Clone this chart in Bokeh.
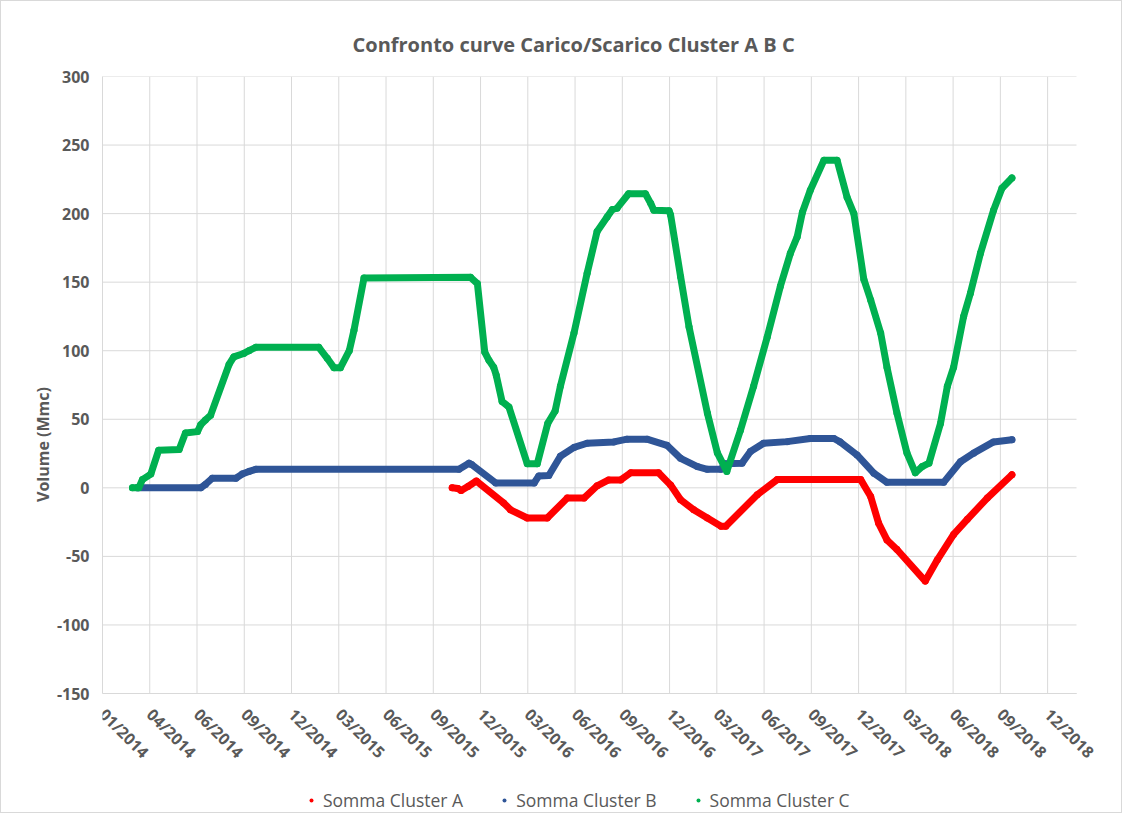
from datetime import datetime, timedelta
from math import pi
import pandas as pd
from bokeh.plotting import figure
from bokeh.models import Range1d, FixedTicker, DatetimeTickFormatter, Legend, LegendItem
from bokeh.embed import file_html
from bokeh.resources import INLINE

TITLE = "Confronto curve Carico/Scarico  Cluster A B C"
Y_LABEL = "Volume (Mmc)"
NAMES = ["Somma Cluster A", "Somma Cluster B", "Somma Cluster C"]
COLORS = ["#FF0000", "#2F5597", "#00B050"]

# Cluster A
a_dates = ["2015-10-29", "2015-11-09", "2015-11-15", "2015-11-28", "2015-12-14",
           "2016-02-04", "2016-02-17", "2016-03-20", "2016-04-27", "2016-06-04",
           "2016-07-06", "2016-07-31", "2016-08-22", "2016-09-14", "2016-10-03",
           "2016-11-25", "2016-12-18", "2017-01-06", "2017-01-31", "2017-02-26",
           "2017-03-24", "2017-04-02", "2017-06-01", "2017-07-09", "2017-12-15",
           "2018-01-03", "2018-01-18", "2018-02-03", "2018-02-22", "2018-04-17",
           "2018-05-10", "2018-06-10", "2018-07-06", "2018-08-13", "2018-09-29"]
a_values = [0, -0.5, -2, 1, 5,
            -11, -16, -22, -22, -7.5,
            -7.5, 1.5, 5.8, 5.8, 11,
            11, 2, -8.7, -16, -22,
            -28, -28, -5, 6, 6,
            -6.3, -25.7, -38, -45, -68,
            -52.5, -34, -23, -7.5, 9.5]

# Cluster B
b_dates = ["2014-03-08", "2014-07-07", "2014-07-16", "2014-07-29", "2014-09-12",
           "2014-09-24", "2014-10-07", "2014-10-20", "2015-11-11", "2015-11-30",
           "2015-12-05", "2016-01-20", "2016-04-02", "2016-04-11", "2016-04-30",
           "2016-05-22", "2016-06-17", "2016-07-12", "2016-09-01", "2016-09-26",
           "2016-11-03", "2016-12-11", "2017-01-06", "2017-02-07", "2017-02-26",
           "2017-03-24", "2017-03-31", "2017-05-03", "2017-05-19", "2017-06-13",
           "2017-07-28", "2017-09-10", "2017-10-25", "2017-11-06", "2017-12-08",
           "2018-01-09", "2018-02-03", "2018-05-22", "2018-06-23", "2018-07-18",
           "2018-08-25", "2018-09-29"]
b_values = [0, 0, 2.5, 7, 7,
            10, 12, 13.5, 13.5, 18,
            17, 3.5, 3.5, 8.7, 9,
            23, 29.5, 32.5, 33.5, 35.5,
            35.5, 31, 21.5, 15.5, 13.5,
            13.5, 17.5, 18, 26.5, 32.5,
            33.7, 36, 36, 33.5, 24,
            10.7, 4, 4, 19, 25.3,
            33.5, 35]

# Cluster C
c_dates = ["2014-02-27", "2014-03-11", "2014-03-18", "2014-04-03", "2014-04-18",
           "2014-05-27", "2014-06-08", "2014-07-01", "2014-07-07", "2014-07-16",
           "2014-07-26", "2014-08-30", "2014-09-08", "2014-09-27", "2014-10-07",
           "2014-10-20", "2015-02-17", "2015-03-05", "2015-03-18", "2015-03-30",
           "2015-04-16", "2015-04-25", "2015-05-14", "2015-12-03", "2015-12-16",
           "2015-12-30", "2016-01-07", "2016-01-16", "2016-01-21", "2016-02-01",
           "2016-02-14", "2016-03-20", "2016-04-08", "2016-04-28", "2016-05-12",
           "2016-05-22", "2016-06-17", "2016-07-12", "2016-07-31", "2016-08-19",
           "2016-08-29", "2016-09-07", "2016-09-29", "2016-10-31", "2016-11-10",
           "2016-11-16", "2016-12-15", "2016-12-18", "2017-01-06", "2017-01-22",
           "2017-02-26", "2017-03-17", "2017-04-04", "2017-04-30", "2017-05-25",
           "2017-06-20", "2017-07-15", "2017-08-03", "2017-08-16", "2017-08-26",
           "2017-09-10", "2017-10-06", "2017-10-31", "2017-11-19", "2017-12-02",
           "2017-12-21", "2018-01-03", "2018-01-22", "2018-02-03", "2018-02-22",
           "2018-03-13", "2018-03-29", "2018-04-11", "2018-04-24", "2018-05-16",
           "2018-05-29", "2018-06-10", "2018-06-29", "2018-07-12", "2018-07-31",
           "2018-08-25", "2018-09-10", "2018-09-29"]
c_values = [0, 0, 6, 10, 27.5,
            28, 40, 41, 46, 49.5,
            53, 90, 95.5, 98, 100,
            102.5, 102.5, 94.5, 87.5, 87.5,
            100, 115, 153, 153.5, 149,
            99, 93, 88, 82, 63,
            59, 17.5, 17.5, 47, 56,
            74, 113, 156.5, 187, 197.5,
            203, 204, 214.5, 214.5, 207.5,
            202.5, 202, 199, 154, 117.5,
            54.5, 25.5, 12, 42, 74,
            110, 147, 171, 183, 201,
            217, 239, 239, 212, 200,
            152, 137, 113, 88, 54.5,
            25.5, 11, 15.5, 18, 47,
            74, 88, 125, 142, 171,
            202.5, 218.5, 226]

Y_TICKS = [-150, -100, -50, 0, 50, 100, 150, 200, 250, 300]
Y_MIN, Y_MAX = -150, 300
X_START = datetime(2014, 1, 1)
X_END = datetime(2019, 1, 30)
TICK_DAYS = 90
N_TICKS = 21

TXT = "#595959"
GRID = "#D9D9D9"
FONT = "Open Sans"

PLOT_W = 974            # pixel width of the X_START..X_END band
FRAME_W = 1000          # frame extends right so the last rotated label is not clipped
PLOT_H = 617            # pixel height of the -150..300 value band
FRAME_H = 736           # frame extends below the axis to hold the legend
px_per_unit = PLOT_H / (Y_MAX - Y_MIN)
y_start = Y_MAX - FRAME_H / px_per_unit
span_days = (X_END - X_START).days
x_view_end = X_START + timedelta(days=span_days * FRAME_W / PLOT_W)

p = figure(frame_width=FRAME_W, frame_height=FRAME_H,
           x_axis_type="datetime",
           x_range=Range1d(X_START, x_view_end), y_range=Range1d(y_start, Y_MAX),
           output_backend="svg", toolbar_location=None,
           min_border_left=101, min_border_top=75, min_border_right=19, min_border_bottom=0)
p.styles = {"border": "1px solid #D9D9D9"}
p.outline_line_color = None

p.title.text = TITLE
p.title.align = "left"
p.title.text_font = FONT
p.title.text_font_size = "20px"
p.title.text_font_style = "bold"
p.title.text_color = TXT
p.title.standoff = 37
p.title.offset = 250

tick_dt = [X_START + timedelta(days=TICK_DAYS * k) for k in range(N_TICKS)]
tick_ms = [(t - datetime(1970, 1, 1)).total_seconds() * 1000 for t in tick_dt]
p.xaxis.ticker = FixedTicker(ticks=tick_ms)
fmt = "%m/%Y"
p.xaxis.formatter = DatetimeTickFormatter(microseconds=fmt, milliseconds=fmt, seconds=fmt,
                                          minsec=fmt, minutes=fmt, hourmin=fmt, hours=fmt,
                                          days=fmt, months=fmt, years=fmt)
p.xaxis.major_label_orientation = -pi / 4
p.xaxis.fixed_location = Y_MIN
p.xaxis.bounds = (X_START, X_END)
p.yaxis.ticker = FixedTicker(ticks=Y_TICKS)
p.yaxis.major_label_overrides = {t: str(t) for t in Y_TICKS}
p.yaxis.bounds = (Y_MIN, Y_MAX)

for ax in (p.xaxis, p.yaxis):
    ax.axis_line_color = GRID
    ax.major_tick_line_color = None
    ax.minor_tick_line_color = None
    ax.major_label_text_font = FONT
    ax.major_label_text_font_size = "16px"
    ax.major_label_text_font_style = "bold"
    ax.major_label_text_color = TXT
p.xaxis.major_label_standoff = 12
p.yaxis.major_label_standoff = 7

p.yaxis.axis_label = Y_LABEL
p.yaxis.axis_label_text_font = FONT
p.yaxis.axis_label_text_font_size = "16px"
p.yaxis.axis_label_text_font_style = "bold"
p.yaxis.axis_label_text_color = TXT
p.yaxis.axis_label_standoff = 0

# grid only across the value band
p.xgrid.visible = False
p.ygrid.visible = False
p.segment(x0=tick_dt, y0=[Y_MIN] * N_TICKS, x1=tick_dt, y1=[Y_MAX] * N_TICKS,
          line_color=GRID, line_width=1)
p.segment(x0=[X_START] * len(Y_TICKS), y0=Y_TICKS, x1=[X_END] * len(Y_TICKS), y1=Y_TICKS,
          line_color=GRID, line_width=1)

items = []
for name, color, d, v in [(NAMES[0], COLORS[0], a_dates, a_values),
                          (NAMES[1], COLORS[1], b_dates, b_values),
                          (NAMES[2], COLORS[2], c_dates, c_values)]:
    xs = pd.to_datetime(d)
    p.line(xs, v, line_color=color, line_width=7, line_join="round", line_cap="round")
    r = p.scatter(xs, v, size=7, fill_color=color, line_color=None)
    items.append(LegendItem(label=name, renderers=[r]))

legend = Legend(items=items, orientation="horizontal", location=(204, 0),
                background_fill_alpha=0, border_line_color=None,
                label_text_font=FONT, label_text_font_size="17.5px", label_text_color=TXT,
                glyph_width=10, glyph_height=20, label_standoff=7, spacing=36,
                padding=0, margin=0, label_height=20)
p.add_layout(legend, "center")

open("out.html", "w").write(file_html(p, INLINE))
